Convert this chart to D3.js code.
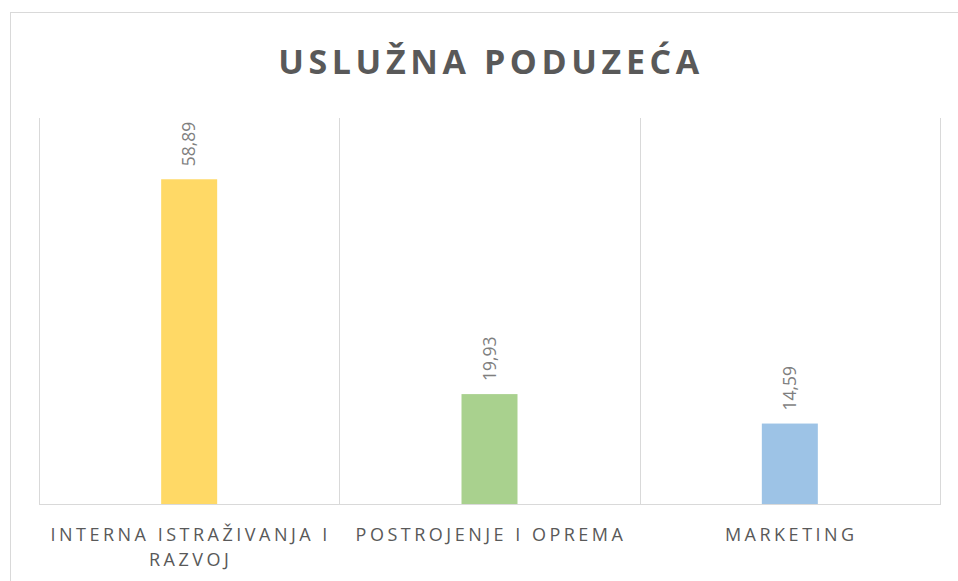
<!DOCTYPE html>
<html>
<head>
<meta charset="utf-8">
<script src="https://cdn.jsdelivr.net/npm/d3@7"></script>
<style>
  body { margin: 0; background: #fff; }
  svg { display: block; }
</style>
</head>
<body>
<div id="chart"></div>
<script>
var title = "USLUŽNA PODUZEĆA";
var categories = [["INTERNA ISTRAŽIVANJA I", "RAZVOJ"], ["POSTROJENJE I OPREMA"], ["MARKETING"]];
var values = [58.89, 19.93, 14.59];
var colors = ["#ffd966", "#a9d18e", "#9dc3e6"];

function init(){
    var w = 958, h = 581;
    var left = 39, right = 940, top = 118, bottom = 504;

    var svg = d3.select("#chart").append("svg")
        .attr("width", w)
        .attr("height", h);

    // chart border
    svg.append("rect")
        .attr("x", 10.5).attr("y", 12.5)
        .attr("width", 970).attr("height", 600)
        .attr("fill", "#fff")
        .attr("stroke", "#d9d9d9");

    var xScale = d3.scaleBand()
        .domain(d3.range(values.length))
        .range([left, right])
        .paddingInner(0)
        .paddingOuter(0);

    var yScale = d3.scaleLinear()
        .domain([0, 70])
        .range([bottom, top]);

    // category separators
    svg.selectAll("line.sep")
        .data(d3.range(values.length + 1))
        .enter()
        .append("line")
        .attr("class", "sep")
        .attr("x1", function(d){ return Math.round(left + d * xScale.bandwidth()) + 0.5; })
        .attr("x2", function(d){ return Math.round(left + d * xScale.bandwidth()) + 0.5; })
        .attr("y1", top)
        .attr("y2", bottom)
        .attr("stroke", "#d9d9d9");

    var barW = 56;
    svg.selectAll("rect.bar")
        .data(values)
        .enter()
        .append("rect")
        .attr("class", "bar")
        .attr("x", function(d, i){ return xScale(i) + xScale.bandwidth()/2 - barW/2; })
        .attr("y", function(d){ return yScale(d); })
        .attr("width", barW)
        .attr("height", function(d){ return bottom - yScale(d); })
        .attr("fill", function(d, i){ return colors[i]; });

    // baseline
    svg.append("line")
        .attr("x1", left).attr("x2", right + 1)
        .attr("y1", bottom + 0.5).attr("y2", bottom + 0.5)
        .attr("stroke", "#d9d9d9");

    // value labels (rotated)
    svg.selectAll("text.val")
        .data(values)
        .enter()
        .append("text")
        .attr("class", "val")
        .attr("transform", function(d, i){
            return "translate(" + (xScale(i) + xScale.bandwidth()/2 + 6) + "," + (yScale(d) - 13) + ") rotate(-90)";
        })
        .attr("text-anchor", "start")
        .attr("font-family", "Open Sans, sans-serif")
        .attr("font-size", "17.5px")
        .attr("fill", "#7f7f7f")
        .text(function(d){ return d.toFixed(2).replace(".", ","); });

    // category labels
    var cat = svg.selectAll("text.cat")
        .data(categories)
        .enter()
        .append("text")
        .attr("class", "cat")
        .attr("text-anchor", "middle")
        .attr("font-family", "Open Sans, sans-serif")
        .attr("font-size", "18px")
        .attr("letter-spacing", "3.5px")
        .attr("fill", "#595959");
    cat.each(function(lines, i){
        d3.select(this).selectAll("tspan")
            .data(lines)
            .enter()
            .append("tspan")
            .attr("x", xScale(i) + xScale.bandwidth()/2 + 1.5)
            .attr("y", function(d, j){ return 541 + j * 25; })
            .text(function(d){ return d; });
    });

    // title
    svg.append("text")
        .attr("x", 491)
        .attr("y", 74)
        .attr("text-anchor", "middle")
        .attr("font-family", "Open Sans, sans-serif")
        .attr("font-weight", "bold")
        .attr("font-size", "34px")
        .attr("letter-spacing", "4.6px")
        .attr("fill", "#595959")
        .text(title);
}

window.onload = init;
</script>
</body>
</html>
